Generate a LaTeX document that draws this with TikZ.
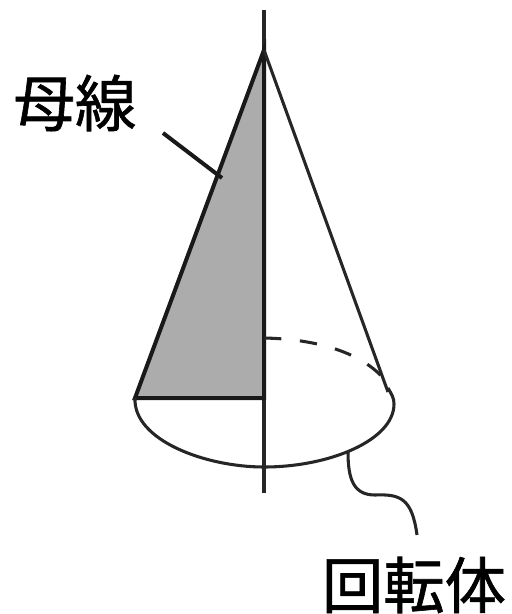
\documentclass[tikz,border=0pt]{standalone}
\usepackage{fontspec}
\setmainfont[FakeBold=1]{Noto Sans CJK JP}
\usepackage{tikz}
\tikzstyle{jlabel} = [inner sep=0pt, font=\fontsize{46}{46}\selectfont]
\tikzstyle{thinline} = [line width=2.3pt, draw=black!85]
\tikzstyle{edge} = [line width=3pt, draw=black!90]
\begin{document}
\begin{tikzpicture}[x=0.75pt,y=-0.75pt]
            \useasboundingbox (0,0) rectangle (511,614);
            \coordinate (apex) at (264,50);
            \coordinate (left) at (135,398);
            \coordinate (mid) at (264,398);
            \coordinate (right) at (394,404);
            \coordinate (top) at (264,10);
            \coordinate (bottom) at (264,493);
            \coordinate (front) at (264,467);
            \coordinate (back) at (264,338);
            \coordinate (dashend) at (388,384);
            \coordinate (base) at (348,452);
            \coordinate (leadend) at (417,535);
            \coordinate (bosenstart) at (163,133);
            \coordinate (bosenend) at (222,178);
            \fill [gray!65] (apex) -- (left) -- (mid) -- cycle;
            \draw [thinline] (top) -- (bottom);
            \draw [edge] (left) -- (apex) -- (mid) -- cycle;
            \draw [thinline] (apex) -- (388,392);
            \draw [thinline] (left) .. controls (133,440) and (205,467) .. (front) .. controls (330,467) and (394,440) .. (right) .. controls (394,398) and (392,395) .. (388,388);
            \draw [thinline, dash pattern=on 13pt off 14pt] (back) .. controls (315,339) and (365,352) .. (dashend);
            \draw [edge] (bosenstart) -- (bosenend);
            \draw [thinline] (base) .. controls (348,480) and (354,495) .. (375,495) .. controls (400,494) and (412,498) .. (leadend);
            \node [jlabel] at (75,103) (bosen) {母線};
            \node [jlabel] at (414,585) (kaitentai) {回転体};
            \end{tikzpicture}
\end{document}
